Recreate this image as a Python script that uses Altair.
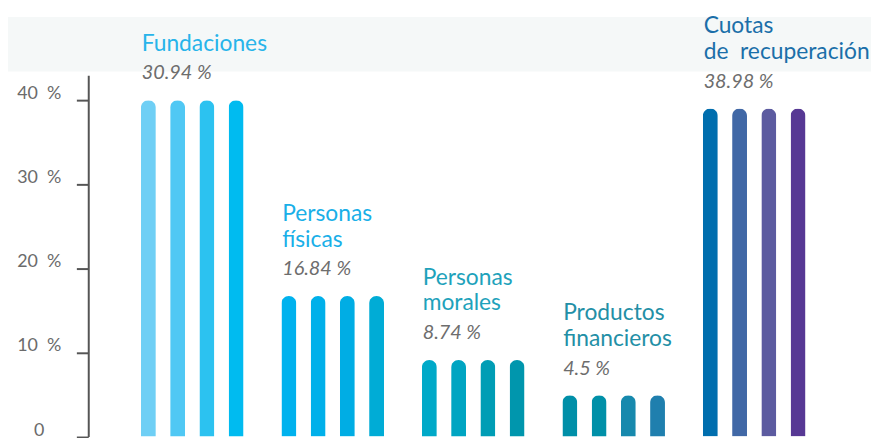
import altair as alt
import pandas as pd

categories = ["Fundaciones", "Personas físicas", "Personas morales",
              "Productos financieros", "Cuotas de recuperación"]
line_top = ["", "Personas", "Personas", "Productos", "Cuotas"]
line_bottom = ["Fundaciones", "físicas", "morales", "financieros", "de\u00a0\u00a0recuperación"]
pct_labels = ["30.94 %", "16.84 %", "8.74 %", "4.5 %", "38.98 %"]
bar_heights = [40, 16.7, 9.1, 4.9, 39.0]
label_colors = ["#27b4ea", "#19afe8", "#1ea2bb", "#238fa6", "#1b6fa9"]
bar_colors = [
    ["#6fcff5", "#50c8f4", "#2cc2f0", "#00bbf0"],
    ["#00b2ee", "#00b0ea", "#00ade4", "#00acd6"],
    ["#00a9c8", "#00a5c2", "#009db5", "#0096ad"],
    ["#008fa8", "#0090a8", "#1789ad", "#1f7fae"],
    ["#006eae", "#4168a6", "#5c5ba0", "#573894"],
]
y_ticks = [0, 10, 20, 30, 40]
band_range = [43.4, 49.9]

bars_df = pd.DataFrame([
    {"cat": c, "i": j, "h": h, "color": bar_colors[k][j]}
    for k, (c, h) in enumerate(zip(categories, bar_heights))
    for j in range(4)
])
labels_df = pd.DataFrame({
    "cat": categories, "h": bar_heights, "l1": line_top, "l2": line_bottom,
    "pct": pct_labels, "lc": label_colors,
})
band_df = pd.DataFrame({"h": [band_range[0]], "h2": [band_range[1]]})

FONT = "Lato"
x_enc = alt.X("cat:N", sort=categories, axis=None,
              scale=alt.Scale(paddingInner=0, paddingOuter=0.24, round=False))
y_scale = alt.Scale(domain=[0, 42.95], nice=False, zero=True)
y_axis = alt.Axis(
    values=y_ticks, title=None, grid=False,
    domainColor="#555555", domainWidth=2,
    tickColor="#555555", tickWidth=2, tickSize=12,
    labelPadding=38, labelAlign="center", labelBaseline="alphabetic",
    labelOffset=-1.5,
    labelFont=FONT, labelFontSize=18, labelColor="#6b6b6b",
    labelOverlap=False, labelBound=False,
    labelExpr="datum.value == 0 ? '0' : datum.value + '\u00a0 %'",
)
y_enc = alt.Y("h:Q", scale=y_scale, axis=y_axis)

band = alt.Chart(band_df).mark_rect(color="#f5f8f8").encode(
    x=alt.value(-89), x2=alt.value(800), y=y_enc, y2="h2:Q",
)

bars = alt.Chart(bars_df).mark_bar(cornerRadiusEnd=7.5).encode(
    x=x_enc,
    xOffset=alt.XOffset("i:O", scale=alt.Scale(paddingOuter=0.648, paddingInner=0.49, round=False)),
    y=y_enc,
    color=alt.Color("color:N", scale=None),
)

base_text = alt.Chart(labels_df).encode(x=x_enc, y=y_enc)
pct = base_text.mark_text(
    align="left", baseline="alphabetic", dx=-51, dy=-21,
    font=FONT, fontStyle="italic", fontSize=20, color="#6d6d6d",
).encode(text="pct:N")
l2 = base_text.mark_text(
    align="left", baseline="alphabetic", dx=-51, dy=-50,
    font=FONT, fontSize=23,
).encode(text="l2:N", color=alt.Color("lc:N", scale=None))
l1 = base_text.mark_text(
    align="left", baseline="alphabetic", dx=-51, dy=-76,
    font=FONT, fontSize=23,
).encode(text="l1:N", color=alt.Color("lc:N", scale=None))

chart = alt.layer(band, bars, pct, l2, l1).properties(
    width=777, height=364.5,
    autosize=alt.AutoSizeParams(type="none"),
    padding={"left": 81, "top": 66, "right": 13, "bottom": 0},
    background="white",
).configure_view(stroke=None)

chart.save("out.html", embed_options={"renderer": "svg", "actions": False})
